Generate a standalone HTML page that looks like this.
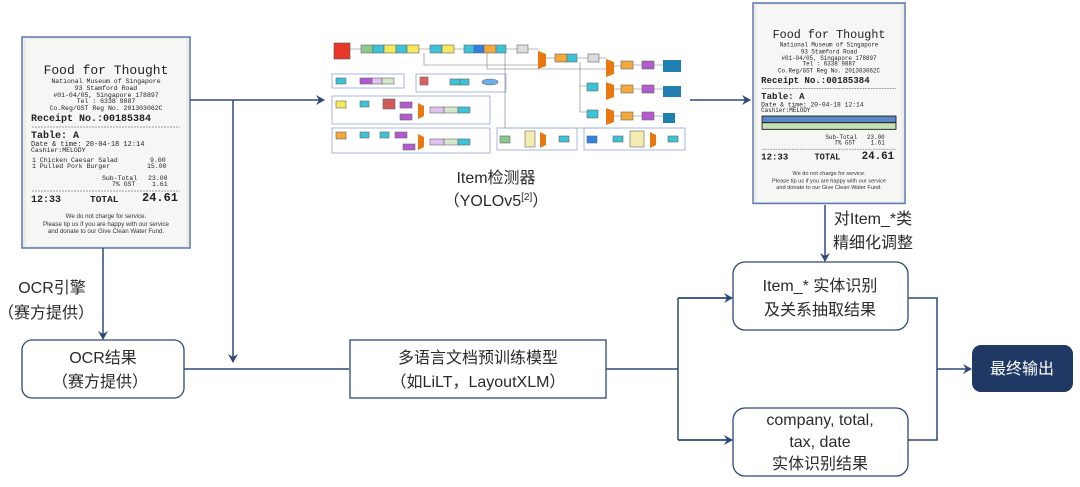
<!DOCTYPE html>
<html><head><meta charset="utf-8"><style>
body{margin:0;background:#fff;}
svg{display:block;font-family:"Liberation Sans","Noto Sans CJK SC",sans-serif;}
.m{font-family:"Liberation Mono",monospace;fill:#222;}
.s{font-family:"Liberation Sans",sans-serif;fill:#333;}
.lbl{font-size:16px;fill:#2a2a2a;}
</style></head><body>
<svg width="1080" height="487" viewBox="0 0 1080 487" xmlns="http://www.w3.org/2000/svg">
<defs>
<marker id="a" markerWidth="10" markerHeight="10" refX="8" refY="5" orient="auto" markerUnits="userSpaceOnUse">
<path d="M0,0 L9,5 L0,10 L3,5 z" fill="#2e4878"/></marker>
</defs>

<!-- Receipt 1 -->
<g transform="translate(22,37)">
<rect x="0" y="0" width="168" height="211" fill="#ecebe8" stroke="#5a78b0" stroke-width="1.5"/>
<rect x="4" y="2" width="160" height="207" fill="#f6f6f4"/>
<g text-anchor="middle">
<text class="m" x="84" y="37" font-size="13">Food for Thought</text>
<text class="m" x="84" y="46" font-size="6.5">National Museum of Singapore</text>
<text class="m" x="84" y="53" font-size="6.5">93 Stamford Road</text>
<text class="m" x="84" y="60" font-size="6.5">#01-04/05, Singapore 178897</text>
<text class="m" x="84" y="66" font-size="6.5">Tel : 6338 9887</text>
<text class="m" x="84" y="73" font-size="6.5">Co.Reg/GST Reg No. 201303062C</text>
</g>
<text class="m" x="9" y="84" font-size="10" font-weight="bold">Receipt No.:00185384</text>
<line x1="10" y1="90" x2="158" y2="90" stroke="#999" stroke-dasharray="2 1"/>
<text class="m" x="9" y="101" font-size="10" font-weight="bold">Table: A</text>
<text class="m" x="9" y="109" font-size="7">Date &amp; time: 20-04-18 12:14</text>
<text class="m" x="9" y="115" font-size="6.5">Cashier:MELODY</text>
<text class="m" x="10" y="125" font-size="6.5">1  Chicken Caesar Salad</text>
<text class="m" x="10" y="131" font-size="6.5">1  Pulled Pork Burger</text>
<text class="m" x="128" y="125" font-size="6.5">9.00</text>
<text class="m" x="125" y="131" font-size="6.5">15.00</text>
<text class="m" x="80" y="143" font-size="6.5">Sub-Total</text>
<text class="m" x="90" y="149" font-size="6.5">7% GST</text>
<text class="m" x="126" y="143" font-size="6.5">23.00</text>
<text class="m" x="130" y="149" font-size="6.5">1.61</text>
<line x1="10" y1="154" x2="158" y2="154" stroke="#999" stroke-dasharray="2 1"/>
<text class="m" x="9" y="165" font-size="10" font-weight="bold">12:33</text>
<text class="m" x="68" y="165" font-size="9.5" font-weight="bold">TOTAL</text>
<text class="m" x="120" y="164" font-size="12" font-weight="bold">24.61</text>
<g text-anchor="middle">
<text class="s" x="84" y="181" font-size="6.2">We do not charge for service.</text>
<text class="s" x="84" y="189" font-size="6.2">Please tip us if you are happy with our service</text>
<text class="s" x="84" y="196" font-size="6.2">and donate to our Give Clean Water Fund.</text>
</g>
</g>

<!-- Receipt 2 -->
<g transform="translate(753,3) scale(0.905,0.95)">
<rect x="0" y="0" width="168" height="211" fill="#ecebe8" stroke="#5a78b0" stroke-width="1.6"/>
<rect x="4" y="2" width="160" height="207" fill="#f6f6f4"/>
<g text-anchor="middle">
<text class="m" x="84" y="37" font-size="13">Food for Thought</text>
<text class="m" x="84" y="46" font-size="6.5">National Museum of Singapore</text>
<text class="m" x="84" y="53" font-size="6.5">93 Stamford Road</text>
<text class="m" x="84" y="60" font-size="6.5">#01-04/05, Singapore 178897</text>
<text class="m" x="84" y="66" font-size="6.5">Tel : 6338 9887</text>
<text class="m" x="84" y="73" font-size="6.5">Co.Reg/GST Reg No. 201303062C</text>
</g>
<text class="m" x="9" y="84" font-size="10" font-weight="bold">Receipt No.:00185384</text>
<line x1="10" y1="90" x2="158" y2="90" stroke="#999" stroke-dasharray="2 1"/>
<text class="m" x="9" y="101" font-size="10" font-weight="bold">Table: A</text>
<text class="m" x="9" y="109" font-size="7">Date &amp; time: 20-04-18 12:14</text>
<text class="m" x="9" y="115" font-size="6.5">Cashier:MELODY</text>
<rect x="10" y="119" width="148" height="7" fill="#5b86c8" stroke="#222" stroke-width="1"/>
<rect x="10" y="126" width="148" height="7" fill="#c5e0b4" stroke="#222" stroke-width="1"/>
<text class="m" x="80" y="143" font-size="6.5">Sub-Total</text>
<text class="m" x="90" y="149" font-size="6.5">7% GST</text>
<text class="m" x="126" y="143" font-size="6.5">23.00</text>
<text class="m" x="130" y="149" font-size="6.5">1.61</text>
<line x1="10" y1="154" x2="158" y2="154" stroke="#999" stroke-dasharray="2 1"/>
<text class="m" x="9" y="165" font-size="10" font-weight="bold">12:33</text>
<text class="m" x="68" y="165" font-size="9.5" font-weight="bold">TOTAL</text>
<text class="m" x="120" y="164" font-size="12" font-weight="bold">24.61</text>
<g text-anchor="middle">
<text class="s" x="84" y="181" font-size="6.2">We do not charge for service.</text>
<text class="s" x="84" y="189" font-size="6.2">Please tip us if you are happy with our service</text>
<text class="s" x="84" y="196" font-size="6.2">and donate to our Give Clean Water Fund.</text>
</g>
</g>

<!-- YOLO diagram -->
<g stroke-width="0.6">
<rect x="334" y="43" width="16" height="16" fill="#e8372a" stroke="#555"/>
<g stroke="#666">
<rect x="361" y="45" width="12" height="8" fill="#8bc88b"/><rect x="373" y="45" width="11" height="8" fill="#3cc3d8"/><rect x="384" y="45" width="12" height="8" fill="#f5e85a"/><rect x="396" y="45" width="11" height="8" fill="#3cc3d8"/><rect x="407" y="45" width="12" height="8" fill="#f5e85a"/>
<rect x="430" y="45" width="12" height="8" fill="#3cc3d8"/><rect x="442" y="45" width="12" height="8" fill="#f5e85a"/>
<rect x="464" y="45" width="10" height="8" fill="#3cc3d8"/><rect x="474" y="45" width="10" height="8" fill="#2f7fe0"/><rect x="484" y="45" width="12" height="8" fill="#f5a83c"/><rect x="496" y="45" width="10" height="8" fill="#3cc3d8"/>
<rect x="517" y="45" width="11" height="8" fill="#ddd"/>
<rect x="555" y="54" width="12" height="8" fill="#f5a83c"/><rect x="567" y="54" width="10" height="8" fill="#3cc3d8"/>
<rect x="588" y="54" width="11" height="8" fill="#ddd"/>
<rect x="621" y="61" width="12" height="8" fill="#f5a83c"/><rect x="642" y="61" width="12" height="8" fill="#b35ad0"/>
<rect x="587" y="83" width="11" height="8" fill="#3cc3d8"/><rect x="621" y="85" width="12" height="8" fill="#f5a83c"/><rect x="642" y="85" width="12" height="8" fill="#b35ad0"/>
<rect x="587" y="110" width="11" height="8" fill="#3cc3d8"/><rect x="621" y="112" width="12" height="8" fill="#f5a83c"/><rect x="642" y="112" width="12" height="8" fill="#b35ad0"/>
</g>
<g fill="#e8780f"><path d="M538,51 L546,54 L546,66 L538,69z"/><path d="M606,59 L614,62 L614,74 L606,77z"/><path d="M606,82 L614,85 L614,97 L606,100z"/><path d="M606,108 L614,111 L614,122 L606,125z"/></g>
<g fill="#1f7fb0"><rect x="663" y="60" width="18" height="12"/><rect x="663" y="86" width="18" height="11"/><rect x="663" y="113" width="12" height="10"/></g>
<g fill="none" stroke="#777"><path d="M350,49 H361 M419,49 H430 M454,49 H464 M506,49 H517 M528,49 H538 M546,58 H555 M577,58 H588 M599,58 H606 M614,66 H621 M633,65 H642 M654,65 H663 M614,89 H621 M633,89 H642 M654,89 H663 M614,116 H621 M633,116 H642 M654,116 H663"/>
<path d="M424,53 V65 H538 M487,53 V69 H606 M580,62 V86 H587 M580,75 V112 H587 M505,53 V128 H606"/></g>
<g fill="none" stroke="#8fa6d8" stroke-width="0.8">
<rect x="332" y="74" width="72" height="14"/><rect x="416" y="74" width="90" height="18"/>
<rect x="332" y="96" width="158" height="28"/><rect x="332" y="128" width="158" height="25"/>
<rect x="497" y="128" width="80" height="22"/><rect x="584" y="128" width="101" height="22"/></g>
<g stroke="#666">
<rect x="336" y="78" width="10" height="6" fill="#3cc3d8"/><rect x="360" y="78" width="12" height="6" fill="#b35ad0"/><rect x="372" y="78" width="10" height="6" fill="#e0c3ef"/><rect x="382" y="78" width="12" height="6" fill="#d5e8c8"/>
<rect x="420" y="77" width="8" height="8" fill="#e06060"/><rect x="450" y="79" width="10" height="6" fill="#3cc3d8"/><rect x="460" y="79" width="9" height="6" fill="#3cc3d8"/><ellipse cx="490" cy="82" rx="8" ry="3" fill="#6aaeea"/>
<rect x="336" y="101" width="10" height="7" fill="#f5e85a"/><rect x="360" y="101" width="9" height="6" fill="#3cc3d8"/><rect x="383" y="99" width="12" height="10" fill="#d05a5a"/><rect x="400" y="102" width="12" height="6" fill="#b35ad0"/><rect x="400" y="114" width="12" height="6" fill="#b35ad0"/><rect x="430" y="107" width="14" height="6" fill="#e0c3ef"/><rect x="444" y="107" width="14" height="6" fill="#d5e8c8"/><rect x="458" y="107" width="12" height="6" fill="#3cc3d8"/>
<rect x="336" y="132" width="10" height="7" fill="#f5a83c"/><rect x="360" y="132" width="9" height="6" fill="#3cc3d8"/><rect x="380" y="132" width="9" height="6" fill="#3cc3d8"/><rect x="395" y="132" width="12" height="6" fill="#b35ad0"/><rect x="403" y="144" width="12" height="6" fill="#b35ad0"/><rect x="430" y="139" width="14" height="6" fill="#e0c3ef"/><rect x="444" y="139" width="14" height="6" fill="#d5e8c8"/><rect x="458" y="139" width="12" height="6" fill="#3cc3d8"/>
<rect x="500" y="136" width="10" height="7" fill="#8bc88b"/><rect x="525" y="131" width="10" height="16" fill="#f5ecb0"/><rect x="559" y="136" width="10" height="6" fill="#3cc3d8"/>
<rect x="587" y="136" width="10" height="7" fill="#2f7fe0"/><rect x="613" y="136" width="10" height="6" fill="#3cc3d8"/><rect x="630" y="131" width="14" height="16" fill="#f5ecb0"/><rect x="668" y="136" width="10" height="6" fill="#3cc3d8"/>
</g>
<g fill="#e8780f"><path d="M418,103 L424,106 L424,116 L418,119z"/><path d="M418,134 L424,137 L424,147 L418,150z"/><path d="M540,132 L546,135 L546,145 L540,148z"/><path d="M650,132 L656,135 L656,145 L650,148z"/></g>
</g>
<text x="496" y="183" text-anchor="middle" class="lbl">Item检测器</text>
<text x="496" y="206" text-anchor="middle" class="lbl">（YOLOv5<tspan font-size="10" dy="-6">[2]</tspan><tspan dy="6">）</tspan></text>

<!-- connectors -->
<g stroke="#2e4878" stroke-width="1.5" fill="none">
<path d="M190,100 H324" marker-end="url(#a)"/>
<path d="M233,100 V362" marker-end="url(#a)"/>
<path d="M103,248 V339" marker-end="url(#a)"/>
<path d="M184,369 H349"/>
<path d="M690,100 H750" marker-end="url(#a)"/>
<path d="M825,205 V261" marker-end="url(#a)"/>
<path d="M606,369 H678 M678,298 V440 M678,298 H732 M678,440 H732"/>
<path d="M678,298 H732" marker-end="url(#a)"/>
<path d="M678,440 H732" marker-end="url(#a)"/>
<path d="M908,298 H937 V440 H908 M937,369 H971" marker-end="url(#a)"/>
</g>

<text x="52" y="293" text-anchor="middle" class="lbl">OCR引擎</text>
<text x="46" y="318" text-anchor="middle" class="lbl">（赛方提供）</text>
<text x="873" y="224" text-anchor="middle" class="lbl">对Item_*类</text>
<text x="873" y="248" text-anchor="middle" class="lbl">精细化调整</text>

<!-- boxes -->
<g fill="#fff" stroke="#2e4878" stroke-width="1.3">
<rect x="22" y="340" width="162" height="58" rx="10"/>
<rect x="350" y="340" width="256" height="58"/>
<rect x="733" y="262" width="175" height="68" rx="12"/>
<rect x="733" y="408" width="175" height="68" rx="12"/>
</g>
<rect x="972" y="345" width="101" height="47" rx="9" fill="#1f3864"/>
<text x="103" y="363" text-anchor="middle" class="lbl">OCR结果</text>
<text x="100" y="387" text-anchor="middle" class="lbl">（赛方提供）</text>
<text x="478" y="363" text-anchor="middle" class="lbl">多语言文档预训练模型</text>
<text x="478" y="387" text-anchor="middle" class="lbl">（如LiLT，LayoutXLM）</text>
<text x="820" y="291" text-anchor="middle" class="lbl">Item_* 实体识别</text>
<text x="820" y="315" text-anchor="middle" class="lbl">及关系抽取结果</text>
<text x="820" y="425" text-anchor="middle" class="lbl">company, total,</text>
<text x="820" y="447" text-anchor="middle" class="lbl">tax, date</text>
<text x="820" y="469" text-anchor="middle" class="lbl">实体识别结果</text>
<text x="1022" y="374" text-anchor="middle" font-size="16" fill="#fff">最终输出</text>
</svg>
</body></html>
